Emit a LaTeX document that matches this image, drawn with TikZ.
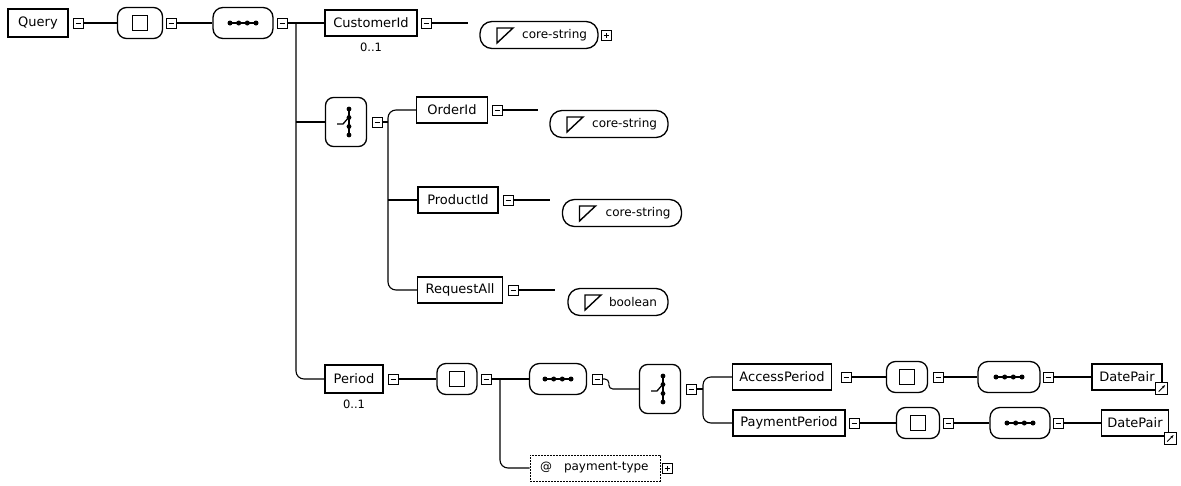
\documentclass[tikz,border=0pt]{standalone}
\usepackage{fontspec}
\setmainfont{DejaVu Sans}
\usetikzlibrary{positioning,arrows.meta}

\tikzset{
  elem/.style={draw, line width=1.2pt, minimum height=26pt, inner sep=0pt,
    font=\fontsize{13}{15}\selectfont},
  card/.style={inner sep=1pt, font=\fontsize{11.5}{13}\selectfont},
  mbox/.style={draw, line width=0.9pt, minimum size=10pt, inner sep=0pt,
    path picture={\draw[line width=0.9pt] ([xshift=2.5pt]path picture bounding box.west)
      -- ([xshift=-2.5pt]path picture bounding box.east);}},
  pbox/.style={draw, line width=0.9pt, minimum size=10pt, inner sep=0pt,
    path picture={\draw[line width=0.9pt] ([xshift=2.5pt]path picture bounding box.west)
      -- ([xshift=-2.5pt]path picture bounding box.east);
      \draw[line width=0.9pt] ([yshift=2.5pt]path picture bounding box.south)
      -- ([yshift=-2.5pt]path picture bounding box.north);}},
  allbox/.style={draw, line width=1.3pt, rounded corners=9pt, minimum height=31pt, inner sep=0pt,
    path picture={\draw[line width=1.6pt, sharp corners]
      ([shift={(-7.5pt,-7.5pt)}]path picture bounding box.center) rectangle ++(15pt,15pt);}},
  seqbox/.style={draw, line width=1.3pt, rounded corners=10pt, minimum height=31pt, inner sep=0pt,
    path picture={\draw[line width=1.4pt]
      ([xshift=-13pt]path picture bounding box.center) -- ([xshift=13pt]path picture bounding box.center);
      \foreach \d in {-13,-4.3,4.3,13}
        \fill ([xshift=\d pt]path picture bounding box.center) circle (2.5pt);}},
  choicebox/.style={draw, line width=1.3pt, rounded corners=8pt, minimum width=41pt,
    minimum height=49pt, inner sep=0pt,
    path picture={\draw[line width=1.4pt, sharp corners]
      ([shift={(3pt,-13pt)}]path picture bounding box.center) -- ([shift={(3pt,13pt)}]path picture bounding box.center);
      \foreach \d in {-13,-4.5,4.5,13}
        \fill ([shift={(3pt,\d pt)}]path picture bounding box.center) circle (2.4pt);
      \draw[line width=1.3pt, sharp corners]
      ([shift={(-9pt,-2pt)}]path picture bounding box.center) -- ([shift={(-3pt,-2pt)}]path picture bounding box.center)
      -- ([shift={(3pt,5pt)}]path picture bounding box.center);}},
  typebox/.style={draw, line width=1.3pt, rounded corners=12pt, minimum height=27pt,
    inner xsep=11pt, inner ysep=0pt, text width=#1, align=right,
    font=\fontsize{12}{14}\selectfont,
    path picture={\draw[line width=1.4pt, sharp corners]
      ([shift={(17pt,7pt)}]path picture bounding box.west) -- ([shift={(33pt,7pt)}]path picture bounding box.west)
      -- ([shift={(17pt,-8pt)}]path picture bounding box.west) -- cycle;}},
  attrbox/.style={draw, line width=1pt, dash pattern=on 2pt off 1pt, minimum height=26pt,
    inner xsep=10pt, inner ysep=0pt, text width=#1, align=left,
    font=\fontsize{12}{14}\selectfont},
  refmark/.style={draw, fill=white, line width=1pt, minimum size=12pt, inner sep=0pt,
    path picture={\draw[line width=1pt, -{Stealth[length=3.5pt]}]
      ([shift={(-3pt,-3pt)}]path picture bounding box.center) -- ([shift={(3.5pt,3.5pt)}]path picture bounding box.center);}},
}

\begin{document}
\begin{tikzpicture}[x=1pt, y=-1pt, line width=1.1pt]
\useasboundingbox (0,0) rectangle (1181,485);

% Query and its content
\node[elem, minimum width=60pt, minimum height=28pt] (query) at (38,23) {Query};
\node[mbox] (query-m) at (78,23) {};
\node[allbox, minimum width=45pt] (all1) at (140,23) {};
\node[mbox] (all1-m) at (171,23) {};
\node[seqbox, minimum width=60pt] (seq1) at (243,23) {};
\node[mbox] (seq1-m) at (282,23) {};
\coordinate (seq1-t) at (296,23);

\node[elem, minimum width=92pt] (cust) at (371,23) {CustomerId};
\node[card, below=5pt of cust] (cust-card) {0..1};
\node[mbox] (cust-m) at (426,23) {};
\coordinate (cust-e) at (468,23);
\node[typebox=96pt] (cust-type) at (539,35) {core-string};
\node[pbox] (cust-type-p) at (606,35) {};

% choice
\node[choicebox] (ch1) at (346,122) {};
\node[mbox] (ch1-m) at (377,122) {};
\coordinate (ch1-t) at (388,122);

\node[elem, minimum width=71pt] (order) at (452,110) {OrderId};
\node[mbox] (order-m) at (497,110) {};
\coordinate (order-e) at (538,110);
\node[typebox=96pt] (order-type) at (609,124) {core-string};

\node[elem, minimum width=80pt] (product) at (458,200) {ProductId};
\node[mbox] (product-m) at (508,200) {};
\coordinate (product-e) at (550,200);
\node[typebox=97pt] (product-type) at (622,213) {core-string};

\node[elem, minimum width=85pt] (request) at (460,290) {RequestAll};
\node[mbox] (request-m) at (513,290) {};
\coordinate (request-e) at (555,290);
\node[typebox=78pt] (request-type) at (618,302) {boolean};

% Period
\node[elem, minimum width=58pt, minimum height=28pt] (period) at (354,379) {Period};
\node[card, below=5pt of period] (period-card) {0..1};
\node[mbox] (period-m) at (393,379) {};
\node[allbox, minimum width=40pt] (all2) at (457,379) {};
\node[mbox] (all2-m) at (486,379) {};
\coordinate (all2-t) at (500,379);
\node[seqbox, minimum width=57pt] (seq2) at (558,379) {};
\node[mbox] (seq2-m) at (597,379) {};
\node[attrbox=110pt] (attr) at (595,468) {@\hspace{12pt}payment-type};
\node[pbox] (attr-p) at (667,468) {};

\node[choicebox] (ch2) at (660,389) {};
\node[mbox] (ch2-m) at (691,389) {};
\coordinate (ch2-t) at (703,389);

\node[elem, minimum width=99pt] (acc) at (782,377) {AccessPeriod};
\node[mbox] (acc-m) at (846,377) {};
\node[allbox, minimum width=41pt] (all3) at (907,377) {};
\node[mbox] (all3-m) at (938,377) {};
\node[seqbox, minimum width=62pt] (seq3) at (1009,377) {};
\node[mbox] (seq3-m) at (1048,377) {};
\node[elem, minimum width=70pt] (dp1) at (1127,377) {DatePair};
\node[refmark] (dp1-r) at ([xshift=-1pt,yshift=2pt]dp1.south east) {};

\node[elem, minimum width=112pt] (pay) at (789,423) {PaymentPeriod};
\node[mbox] (pay-m) at (854,423) {};
\node[allbox, minimum width=43pt] (all4) at (918,423) {};
\node[mbox] (all4-m) at (948,423) {};
\node[seqbox, minimum width=60pt] (seq4) at (1020,423) {};
\node[mbox] (seq4-m) at (1058,423) {};
\node[elem, minimum width=67pt] (dp2) at (1135,423) {DatePair};
\node[refmark] (dp2-r) at ([xshift=1pt,yshift=-2pt]dp2.south east) {};

% connectors
\draw (query-m) -- (all1);
\draw (all1-m) -- (seq1);
\draw (seq1-m) -- (cust);
\draw[rounded corners=8pt] (seq1-t) |- (period.west);
\draw (seq1-t |- ch1.west) -- (ch1.west);
\draw (cust-m) -- (cust-e);

\draw (ch1-m) -- (ch1-t);
\draw[rounded corners=8pt] (order.west) -| (ch1-t |- request.west) -- (request.west);
\draw (ch1-t |- product.west) -- (product.west);
\draw (order-m) -- (order-e);
\draw (product-m) -- (product-e);
\draw (request-m) -- (request-e);

\draw (period-m) -- (all2);
\draw (all2-m) -- (seq2);
\draw[rounded corners=8pt] (all2-t) |- (attr.west);
\draw[rounded corners=4pt] (seq2-m.east) -| ([xshift=-30pt]ch2.west) -- (ch2.west);
\draw (ch2-m) -- (ch2-t);
\draw[rounded corners=8pt] (acc.west) -| (ch2-t |- pay.west) -- (pay.west);

\draw (acc-m) -- (all3);
\draw (all3-m) -- (seq3);
\draw (seq3-m) -- (dp1);
\draw (pay-m) -- (all4);
\draw (all4-m) -- (seq4);
\draw (seq4-m) -- (dp2);
\end{tikzpicture}
\end{document}
